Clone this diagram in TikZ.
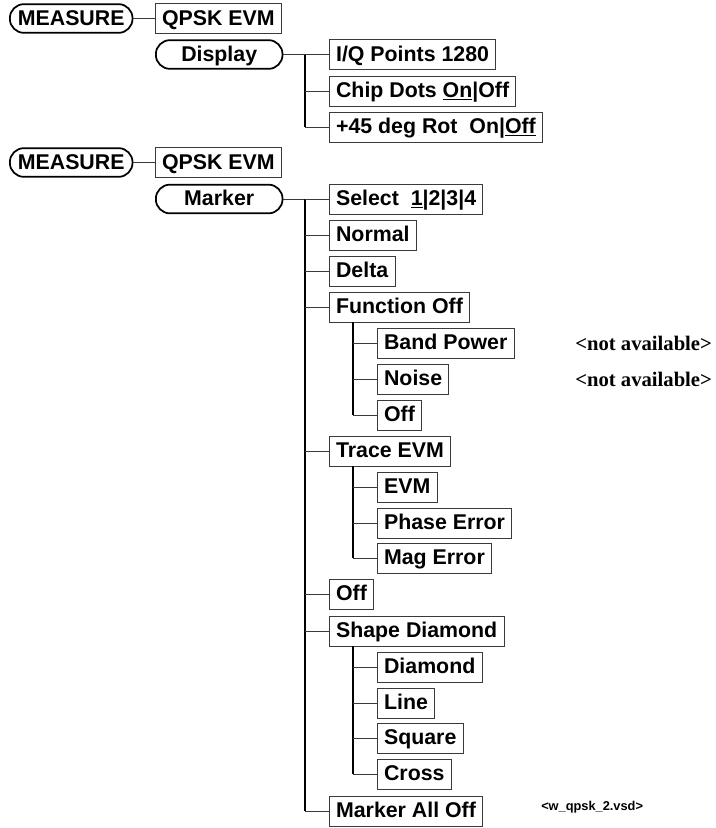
\documentclass[tikz,border=0pt]{standalone}
\usepackage{fontspec}
\setmainfont{Liberation Sans}
\newfontfamily\notefont{Liberation Serif}
\usepackage{tikz}
\usetikzlibrary{calc}
\definecolor{Ink}{HTML}{000000}
\definecolor{DGray}{HTML}{3A3A3A}

\begin{document}
\begin{tikzpicture}[x=0.75pt,y=-0.75pt,
    font=\fontsize{16}{19}\selectfont\bfseries,
    key/.style={draw=Ink,line width=1.3pt,rounded corners=10.5pt,minimum height=21.5pt,
      inner xsep=5pt,text height=11.5pt,text depth=1.5pt,anchor=west},
    soft/.style={draw=DGray,line width=0.6pt,minimum height=22.5pt,inner xsep=5pt,
      text height=11.5pt,text depth=1.5pt,anchor=west},
    trunk/.style={draw=Ink,line width=1.1pt},
    branch/.style={draw=DGray,line width=0.7pt},
    note/.style={anchor=west,inner sep=0pt}]
  \useasboundingbox (0,0) rectangle (715,828);
  % display menu
  \node[key, minimum width=92pt] (ms1) at (9,18.5) {MEASURE};
  \node[soft] (qp1) at (155,18.5) {QPSK EVM};
  \node[key, minimum width=95pt] (disp) at (155,54.5) {Display};
  \node[soft] (iq) at (329,54.5) {I/Q Points 1280};
  \node[soft] (chip) at (329,91) {Chip Dots \underline{On}|Off};
  \node[soft] (rot) at (329,127) {+45 deg Rot\ \ On|\underline{Off}};
  \coordinate (dv) at (305,54.5);
  \draw[branch] (ms1) -- (qp1);
  \draw[branch] (disp.east) -- (dv);
  \draw[trunk] (dv) -- (dv |- rot.west);
  \draw[branch] (dv |- iq.west) -- (iq.west);
  \draw[branch] (dv |- chip.west) -- (chip.west);
  \draw[branch] (dv |- rot.west) -- (rot.west);
  % marker menu
  \node[key, minimum width=92pt] (ms2) at (9,162.5) {MEASURE};
  \node[soft] (qp2) at (155,162.5) {QPSK EVM};
  \node[key, minimum width=95pt] (mark) at (155,199) {Marker};
  \node[soft] (sel) at (329,199) {Select\ \ \underline{1}|2|3|4};
  \node[soft] (norm) at (329,235) {Normal};
  \node[soft] (delta) at (329,271) {Delta};
  \node[soft] (fn) at (329,307) {Function Off};
  \node[soft] (bp) at (377,343) {Band Power};
  \node[soft] (ns) at (377,379) {Noise};
  \node[soft] (fo) at (377,415) {Off};
  \node[soft] (tr) at (329,451) {Trace EVM};
  \node[soft] (evm) at (377,487) {EVM};
  \node[soft] (ph) at (377,523) {Phase Error};
  \node[soft] (mag) at (377,558) {Mag Error};
  \node[soft] (off) at (329,594) {Off};
  \node[soft] (shp) at (329,631) {Shape Diamond};
  \node[soft] (dia) at (377,667) {Diamond};
  \node[soft] (lin) at (377,703) {Line};
  \node[soft] (sq) at (377,738) {Square};
  \node[soft] (cr) at (377,774) {Cross};
  \node[soft] (mo) at (329,811) {Marker All Off};
  \node[note, font=\notefont\fontsize{15.5}{18}\selectfont\bfseries] (na1) at (575,343) {<not available>};
  \node[note, font=\notefont\fontsize{15.5}{18}\selectfont\bfseries] (na2) at (575,379) {<not available>};
  \node[note, font=\fontsize{9.6}{11}\selectfont\bfseries] (file) at (541,807) {<w\_qpsk\_2.vsd>};
  \coordinate (mv) at (305,199);
  \coordinate (fnv) at ($(fn.south west)+(24,0)$);
  \coordinate (trv) at ($(tr.south west)+(24,0)$);
  \coordinate (shv) at ($(shp.south west)+(24,0)$);
  \draw[branch] (ms2) -- (qp2);
  \draw[branch] (mark.east) -- (mv);
  \draw[trunk] (mv) -- (mv |- mo.west);
  \draw[branch] (mv |- sel.west) -- (sel.west);
  \draw[branch] (mv |- norm.west) -- (norm.west);
  \draw[branch] (mv |- delta.west) -- (delta.west);
  \draw[branch] (mv |- fn.west) -- (fn.west);
  \draw[branch] (mv |- tr.west) -- (tr.west);
  \draw[branch] (mv |- off.west) -- (off.west);
  \draw[branch] (mv |- shp.west) -- (shp.west);
  \draw[branch] (mv |- mo.west) -- (mo.west);
  % sub menus
  \draw[trunk] (fnv) -- (fnv |- fo.west);
  \draw[branch] (fnv |- bp.west) -- (bp.west);
  \draw[branch] (fnv |- ns.west) -- (ns.west);
  \draw[branch] (fnv |- fo.west) -- (fo.west);
  \draw[trunk] (trv) -- (trv |- mag.west);
  \draw[branch] (trv |- evm.west) -- (evm.west);
  \draw[branch] (trv |- ph.west) -- (ph.west);
  \draw[branch] (trv |- mag.west) -- (mag.west);
  \draw[trunk] (shv) -- (shv |- cr.west);
  \draw[branch] (shv |- dia.west) -- (dia.west);
  \draw[branch] (shv |- lin.west) -- (lin.west);
  \draw[branch] (shv |- sq.west) -- (sq.west);
  \draw[branch] (shv |- cr.west) -- (cr.west);
\end{tikzpicture}
\end{document}
